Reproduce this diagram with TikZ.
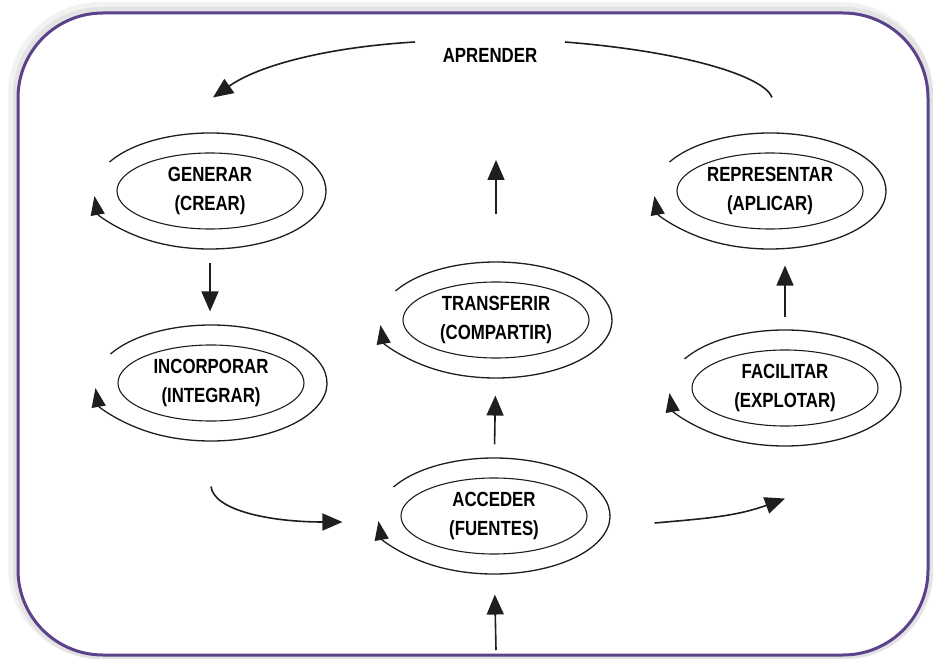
\documentclass[tikz,border=0pt]{standalone}
\usepackage{fontspec}
\usepackage{xcolor}
\usetikzlibrary{arrows.meta,shapes.geometric}
\newfontfamily\stagefont{Liberation Sans}[FakeStretch=0.82]
\definecolor{framepurple}{RGB}{92,66,138}
\definecolor{inkgray}{RGB}{30,30,30}

\begin{document}
\begin{tikzpicture}[x=1pt, y=1pt,
	stage/.style={shape=ellipse, draw=inkgray, line width=1.1pt, minimum width=186pt, minimum height=76pt, inner sep=0pt, align=center, font=\stagefont\bfseries\fontsize{20.5}{29}\selectfont},
	ring/.style={draw=inkgray, line width=1.3pt, -{Triangle[length=19pt, width=14pt]}},
	flow/.style={draw=inkgray, line width=1.6pt, -{Triangle[length=20pt, width=17pt]}},
	plain/.style={draw=inkgray, line width=1.6pt}]

	% Frame and shadow:
	\useasboundingbox (0,0) rectangle (933,659);
	\fill[gray!10, rounded corners=92pt] (8,0) rectangle (933,657);
	\fill[gray!22, rounded corners=88pt] (13,0) rectangle (933,652);
	\draw[framepurple, fill=white, line width=3pt, rounded corners=85pt] (18,4) rectangle (928,646);

	% Stages:
	\node[stage] (gen) at (210,468) {GENERAR\\(CREAR)};
	\node[stage] (rep) at (770,468) {REPRESENTAR\\(APLICAR)};
	\node[stage] (tra) at (496,339) {TRANSFERIR\\(COMPARTIR)};
	\node[stage] (inc) at (211,276) {INCORPORAR\\(INTEGRAR)};
	\node[stage] (fac) at (785,271) {FACILITAR\\(EXPLOTAR)};
	\node[stage] (acc) at (494,143) {ACCEDER\\(FUENTES)};
	\node[font=\stagefont\bfseries\fontsize{20.5}{23}\selectfont, inner sep=0pt] (apr) at (490,604) {APRENDER};

	% Outer rings:
	\foreach \n in {gen,rep,tra,inc,fac,acc}
		\draw[ring] (\n.center) ++(150:116 and 58) arc[start angle=150, end angle=-175, x radius=116, y radius=58];

	% Connectors:
	\coordinate (aprL) at ([shift={(-75,13)}]apr.center);
	\coordinate (aprR) at ([shift={(75,13)}]apr.center);
	\coordinate (up) at (496,499);
	\coordinate (src) at (496,9);
	\draw[plain] ([shift={(2,55)}]rep.north) .. controls +(-7,20) and +(125,-10) .. (aprR);
	\draw[flow] (aprL) .. controls +(-85,-5) and +(47,33) .. ([shift={(3,55)}]gen.north);
	\draw[flow, shorten <=33pt, shorten >=33pt] (gen.south) -- (gen.south |- inc.north);
	\draw[flow, shorten <=67pt] (tra.north) -- (up);
	\draw[flow, shorten <=33pt, shorten >=37pt] (acc.north) -- (tra.south);
	\draw[flow, shorten <=32pt, shorten >=36pt] (fac.north) -- (fac.north |- rep.south);
	\draw[flow, shorten >=40pt] (src) -- (acc.south);
	\draw[flow] ([yshift=-65pt]inc.south) .. controls +(3,-24) and +(-72,0) .. ([shift={(-58,-6)}]acc.west);
	\draw[flow] ([shift={(67,-7)}]acc.east) to[out=5, in=200] ([yshift=-72pt]fac.south);

\end{tikzpicture}
\end{document}
